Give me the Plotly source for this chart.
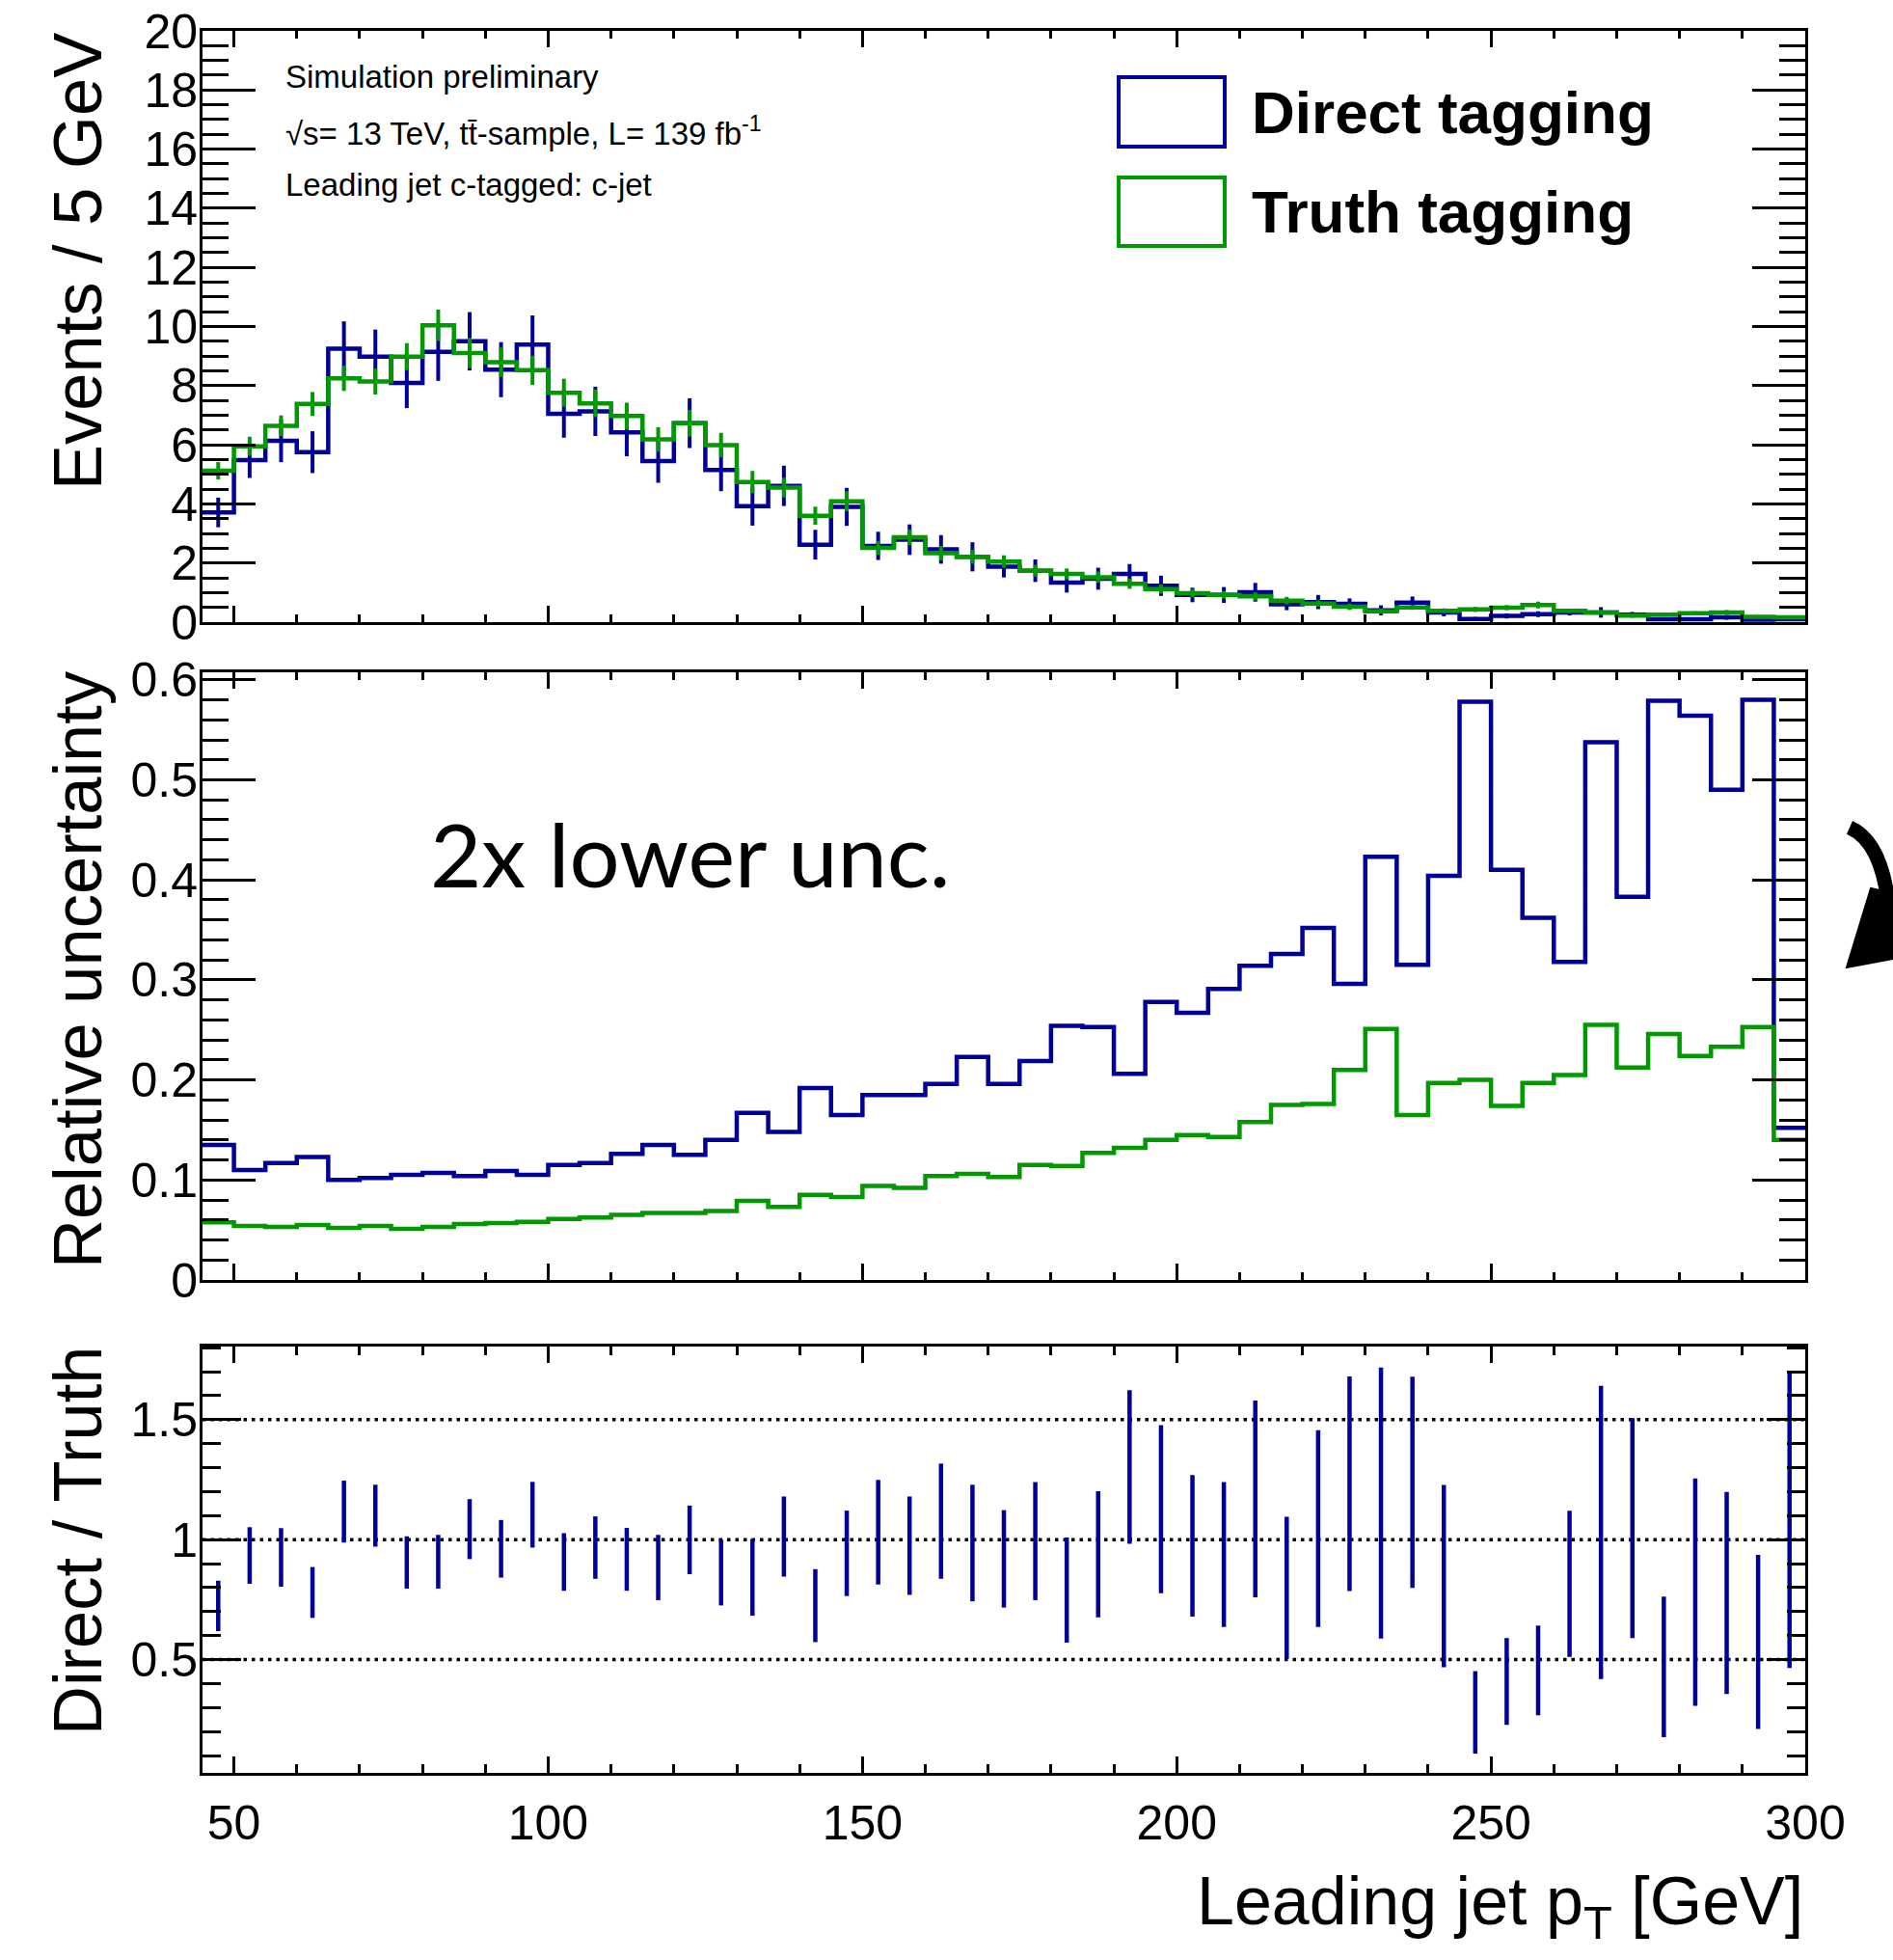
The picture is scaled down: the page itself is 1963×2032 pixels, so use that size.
import plotly.graph_objects as go

# ---------------- data ----------------
bin_edges = list(range(45, 305, 5))  # 45 ... 300 GeV, 5 GeV bins
bin_centers = [e + 2.5 for e in bin_edges[:-1]]

direct_events = [3.71, 5.48, 6.13, 5.75, 9.25, 8.98, 8.09, 9.14, 9.50, 8.54,
                 9.39, 7.05, 7.13, 6.42, 5.45, 6.73, 5.15, 3.92, 4.61, 2.62,
                 3.90, 2.58, 2.79, 2.46, 2.21, 1.88, 1.74, 1.34, 1.47, 1.63,
                 1.23, 0.92, 0.92, 1.01, 0.60, 0.68, 0.62, 0.40, 0.66, 0.33,
                 0.11, 0.21, 0.27, 0.33, 0.33, 0.25, 0.10, 0.10, 0.16, 0.08, 0.10]
truth_events = [5.12, 5.95, 6.64, 7.38, 8.25, 8.14, 8.98, 10.04, 9.10, 8.79,
                8.52, 7.76, 7.40, 6.97, 6.18, 6.73, 5.99, 4.74, 4.55, 3.60,
                4.09, 2.51, 2.87, 2.33, 2.21, 2.05, 1.74, 1.63, 1.52, 1.30,
                1.12, 0.98, 0.92, 0.87, 0.73, 0.63, 0.52, 0.37, 0.50, 0.38,
                0.43, 0.49, 0.58, 0.38, 0.33, 0.22, 0.25, 0.30, 0.33, 0.18, 0.16]

direct_rel_unc = [0.135, 0.110, 0.117, 0.123, 0.100, 0.102, 0.105, 0.107, 0.104, 0.109,
                  0.105, 0.115, 0.117, 0.126, 0.135, 0.125, 0.140, 0.167, 0.148, 0.192,
                  0.165, 0.185, 0.185, 0.196, 0.223, 0.196, 0.219, 0.254, 0.253, 0.206,
                  0.278, 0.267, 0.291, 0.314, 0.326, 0.352, 0.296, 0.423, 0.315, 0.404,
                  0.578, 0.410, 0.362, 0.318, 0.5375, 0.383, 0.579, 0.564, 0.490, 0.580, 0.152]
truth_rel_unc = [0.0575, 0.054, 0.053, 0.055, 0.052, 0.054, 0.051, 0.053, 0.056, 0.057,
                 0.058, 0.061, 0.0625, 0.065, 0.067, 0.067, 0.069, 0.079, 0.073, 0.085,
                 0.083, 0.094, 0.092, 0.104, 0.106, 0.103, 0.115, 0.114, 0.127, 0.132,
                 0.140, 0.145, 0.143, 0.158, 0.175, 0.176, 0.210, 0.251, 0.165, 0.197,
                 0.200, 0.174, 0.197, 0.205, 0.255, 0.2125, 0.246, 0.224, 0.233, 0.253, 0.140]

ratio_values = [0.724, 0.934, 0.926, 0.780, 1.117, 1.100, 0.905, 0.908, 1.044, 0.962,
                1.104, 0.907, 0.967, 0.918, 0.884, 0.999, 0.863, 0.843, 1.013, 0.725,
                0.943, 1.031, 0.975, 1.077, 0.986, 0.920, 0.994, 0.790, 0.939, 1.303,
                1.127, 0.974, 0.938, 1.170, 0.799, 1.046, 1.233, 1.153, 1.239, 0.848,
                0.280, 0.409, 0.455, 0.816, 1.030, 1.048, 0.470, 0.781, 0.778, 0.574, 1.083]
ratio_errors = [0.105, 0.118, 0.122, 0.106, 0.129, 0.129, 0.109, 0.112, 0.125, 0.120,
                0.137, 0.120, 0.130, 0.131, 0.136, 0.143, 0.137, 0.160, 0.167, 0.152,
                0.178, 0.218, 0.205, 0.240, 0.243, 0.203, 0.246, 0.219, 0.263, 0.320,
                0.350, 0.295, 0.302, 0.410, 0.296, 0.410, 0.447, 0.565, 0.440, 0.380,
                0.172, 0.181, 0.187, 0.305, 0.611, 0.458, 0.293, 0.474, 0.421, 0.363, 0.618]

info_lines = ["Simulation preliminary",
              "\u221As= 13 TeV, tt\u0304-sample, L= 139 fb<sup>-1</sup>",
              "Leading jet c-tagged: c-jet"]
legend_labels = ["Direct tagging", "Truth tagging"]

# ---------------- styles ----------------
W, H = 1963, 2032
ML, MR, MT, MB = 210, 91, 32, 194
BLUE = "#000099"
GREEN = "#009900"
FONT = "Liberation Sans, Arial, sans-serif"


def pxx(px):
    return (px - ML) / (W - ML - MR)


def pxy(py):
    return (H - MB - py) / (H - MT - MB)


def step_y(vals):
    return list(vals) + [vals[-1]]


direct_err = [v * r for v, r in zip(direct_events, direct_rel_unc)]
truth_err = [v * r for v, r in zip(truth_events, truth_rel_unc)]

fig = go.Figure()

# top panel
for vals, errs, col in [(direct_events, direct_err, BLUE), (truth_events, truth_err, GREEN)]:
    fig.add_trace(go.Scatter(x=bin_edges, y=step_y(vals), mode="lines",
                             line=dict(color=col, width=4.5, shape="hv"),
                             xaxis="x", yaxis="y", showlegend=False, hoverinfo="skip"))
    fig.add_trace(go.Scatter(x=bin_centers, y=vals, mode="markers",
                             marker=dict(size=0.1, color=col),
                             error_y=dict(type="data", array=errs, width=0, thickness=4, color=col),
                             xaxis="x", yaxis="y", showlegend=False))

# middle panel
for vals, col in [(direct_rel_unc, BLUE), (truth_rel_unc, GREEN)]:
    fig.add_trace(go.Scatter(x=bin_edges, y=step_y(vals), mode="lines",
                             line=dict(color=col, width=4.5, shape="hv"),
                             xaxis="x2", yaxis="y2", showlegend=False))

# bottom panel
fig.add_trace(go.Scatter(x=bin_centers, y=ratio_values, mode="markers",
                         marker=dict(size=0.1, color=BLUE),
                         error_y=dict(type="data", array=ratio_errors, width=0, thickness=4.5, color=BLUE),
                         xaxis="x3", yaxis="y3", showlegend=False))

y_top = [pxy(645), pxy(32)]
y_mid = [pxy(1327), pxy(697)]
y_bot = [pxy(1838), pxy(1396)]

common = dict(showline=True, linewidth=3, linecolor="black", mirror="ticks",
              ticks="inside", tickcolor="black", tickwidth=2.5, showgrid=False,
              zeroline=False, automargin=False,
              tickfont=dict(family=FONT, size=50, color="black"))


def xax(anchor, labels, majlen, minlen):
    d = dict(common)
    d.update(anchor=anchor, domain=[0, 1], range=[45, 300], tick0=0, dtick=50,
             ticklen=majlen, showticklabels=labels, ticklabelstandoff=6,
             minor=dict(dtick=10, ticklen=minlen, ticks="inside", tickcolor="black", tickwidth=2.5))
    return d


def yax(anchor, dom, rng, dtick, mdtick, majlen, minlen):
    d = dict(common)
    d.update(anchor=anchor, domain=dom, range=rng, tick0=0, dtick=dtick, ticklen=majlen,
             ticklabelstandoff=-8,
             minor=dict(dtick=mdtick, ticklen=minlen, ticks="inside", tickcolor="black", tickwidth=2.5))
    return d


fig.update_layout(
    template="none",
    width=W, height=H, autosize=False,
    margin=dict(l=ML, r=MR, t=MT, b=MB, pad=0),
    paper_bgcolor="white", plot_bgcolor="white",
    showlegend=False,
    font=dict(family=FONT, color="black"),
    xaxis=xax("y", False, 17, 8),
    yaxis=yax("x", y_top, [0, 20], 2, 0.5, 55, 27),
    xaxis2=xax("y2", False, 17, 8),
    yaxis2=yax("x2", y_mid, [0, 0.6075], 0.1, 0.02, 55, 27),
    xaxis3=xax("y3", True, 17, 9),
    yaxis3=yax("x3", y_bot, [0.028, 1.805], 0.5, 0.1, 40, 19),
)

shapes = []
# dotted reference lines in ratio panel
for lvl in [0.5, 1.0, 1.5]:
    shapes.append(dict(type="line", xref="x3", yref="y3", x0=45, x1=300, y0=lvl, y1=lvl,
                       line=dict(color="black", width=3.5, dash="3.5px,5px"), layer="below"))
# legend boxes
for (top, bot), col in [((80, 152), BLUE), ((184, 255), GREEN)]:
    shapes.append(dict(type="rect", xref="paper", yref="paper",
                       x0=pxx(1160), x1=pxx(1270), y0=pxy(bot), y1=pxy(top),
                       line=dict(color=col, width=4), fillcolor="rgba(0,0,0,0)"))
# curved arrow at right edge
stroke = "M {:.5f},{:.5f} Q {:.5f},{:.5f} {:.5f},{:.5f}".format(
    pxx(1918), pxy(858), pxx(1950), pxy(872), pxx(1958), pxy(935))
shapes.append(dict(type="path", xref="paper", yref="paper", path=stroke,
                   line=dict(color="black", width=15)))
head = "M {:.5f},{:.5f} L {:.5f},{:.5f} L {:.5f},{:.5f} L {:.5f},{:.5f} Z".format(
    pxx(1940), pxy(921), pxx(1915), pxy(1003), pxx(1963), pxy(994), pxx(1963), pxy(926))
shapes.append(dict(type="path", xref="paper", yref="paper", path=head,
                   fillcolor="black", line=dict(color="black", width=2)))
fig.update_layout(shapes=shapes)

ann = []
for i, t in enumerate(info_lines):
    ann.append(dict(text=t, xref="paper", yref="paper", x=pxx(294), y=pxy(80 + 56 * i),
                    xanchor="left", yanchor="middle", showarrow=False,
                    font=dict(family=FONT, size=33, color="black")))
for lab, yc in zip(legend_labels, [117, 220]):
    ann.append(dict(text="<b>" + lab + "</b>", xref="paper", yref="paper", x=pxx(1296), y=pxy(yc),
                    xanchor="left", yanchor="middle", showarrow=False,
                    font=dict(family=FONT, size=62, color="black")))
for t, ytop in [("Events / 5 GeV", 32), ("Relative uncertainty", 693), ("Direct / Truth", 1393)]:
    ann.append(dict(text=t, xref="paper", yref="paper", x=pxx(80), y=pxy(ytop),
                    xanchor="center", yanchor="top", textangle=-90, showarrow=False,
                    font=dict(family=FONT, size=70.5, color="black")))
ann.append(dict(text="Leading jet p<sub>T</sub> [GeV]", xref="paper", yref="paper",
                x=pxx(1872), y=pxy(1976), xanchor="right", yanchor="middle", showarrow=False,
                font=dict(family=FONT, size=70, color="black")))
ann.append(dict(text="2x lower unc.", xref="paper", yref="paper", x=pxx(444), y=pxy(885),
                xanchor="left", yanchor="middle", showarrow=False,
                font=dict(family="Lato, Noto Sans, sans-serif", size=92, color="black")))
fig.update_layout(annotations=ann)

fig.write_html("out.html")
